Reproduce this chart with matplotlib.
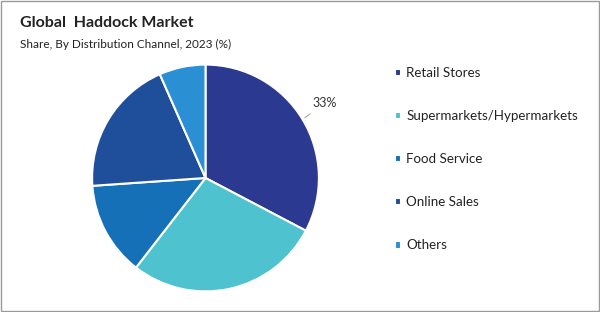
import numpy as np
import matplotlib
matplotlib.use("Agg")
from matplotlib import pyplot as plt
from matplotlib.patches import Rectangle

channels = ["Retail Stores", "Supermarkets/Hypermarkets", "Food Service", "Online Sales", "Others"]
shares = [32.7, 27.8, 13.4, 19.5, 6.6]
colors = ["#2B3990", "#4EC3CF", "#1570B8", "#1F4E9A", "#2A8FD3"]
shown_label = "33%"

plt.rcParams["font.family"] = ["Lato", "DejaVu Sans"]

fig = plt.figure(figsize=(6, 3.12), dpi=100)
fig.patches.append(Rectangle((0.002, 0.003), 0.996, 0.994, transform=fig.transFigure,
                             fill=False, edgecolor="#9a9a9a", linewidth=1.0))

fig.text(0.033, 0.925, "Global  Haddock Market", fontsize=11.5, fontweight="bold",
         color="#222222", va="center")
fig.text(0.033, 0.858, "Share, By Distribution Channel, 2023 (%)", fontsize=8.5,
         color="#222222", va="center")

ax = fig.add_axes([0.1535, 0.0657, 0.378, 0.7276])
wedges, _ = ax.pie(shares, colors=colors, startangle=90, counterclock=False,
                   wedgeprops=dict(edgecolor="white", linewidth=1.5))
ax.set_xlim(-1, 1)
ax.set_ylim(-1, 1)
ax.set_aspect("equal")

# label only the largest slice
w = wedges[0]
mid = np.deg2rad((w.theta1 + w.theta2) / 2)
ax.annotate(shown_label, xy=(1.0 * np.cos(mid), 1.0 * np.sin(mid)),
            xytext=(1.1 * np.cos(mid), 1.17 * np.sin(mid)),
            fontsize=9, color="#333333", ha="left", va="bottom",
            arrowprops=dict(arrowstyle="-", color="#999999", linewidth=0.7))

fig.legend(wedges, channels, loc="upper left", bbox_to_anchor=(0.638, 0.823),
           frameon=False, fontsize=9.6, handlelength=0.5, handleheight=0.5,
           handletextpad=0.35, labelspacing=2.33, labelcolor="#222222")

fig.savefig("out.png", dpi=100, facecolor="white")
